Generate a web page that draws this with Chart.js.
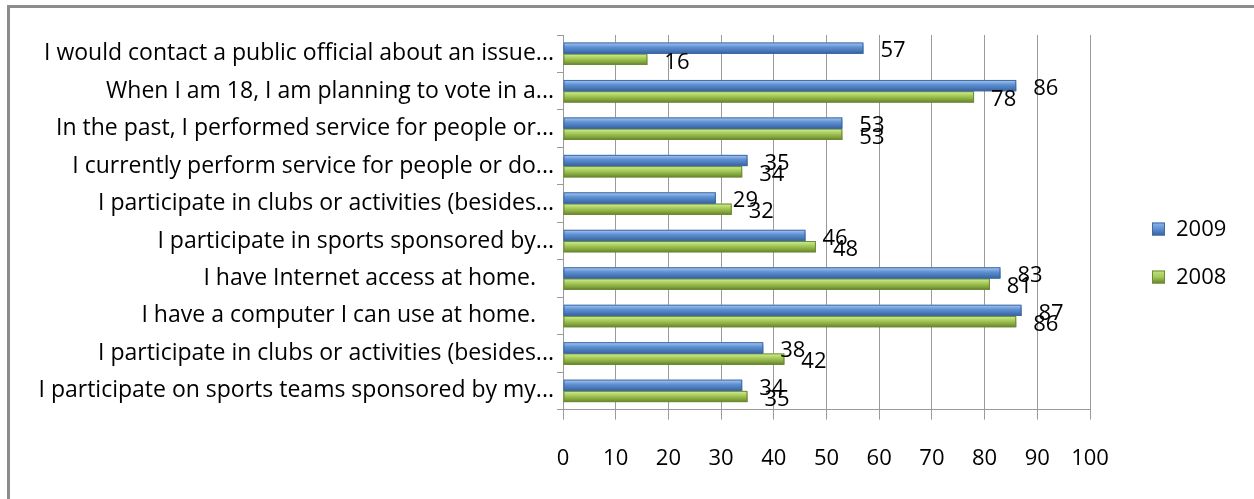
<!DOCTYPE html>
<html>
<head>
<meta charset="utf-8">
<script src="https://cdn.jsdelivr.net/npm/chart.js@4/dist/chart.umd.min.js"></script>
<style>
  html, body { margin: 0; padding: 0; background: #fff; overflow: hidden; }
  #frame {
    position: absolute; left: 7px; top: 5px;
    width: 1300px; height: 560px;
    border: 3px solid #8c8c8c; box-sizing: border-box;
  }
  #surveyChart { position: absolute; left: 10px; top: 8px; }
</style>
</head>
<body>
<div id="frame"></div>
<canvas id="surveyChart" width="1244" height="490"></canvas>
<script>
const categories = [
  'I would contact a public official about an issue...',
  'When I am 18, I am planning to vote in a...',
  'In the past, I performed service for people or...',
  'I currently perform service for people or do...',
  'I participate in clubs or activities (besides...',
  'I participate in sports sponsored by...',
  'I have Internet access at home.   ',
  'I have a computer I can use at home.   ',
  'I participate in clubs or activities (besides...',
  'I participate on sports teams sponsored by my...'
];
const values2009 = [57, 86, 53, 35, 29, 46, 83, 87, 38, 34];
const values2008 = [16, 78, 53, 34, 32, 48, 81, 86, 42, 35];
const seriesNames = ['2009', '2008'];
const xMin = 0, xMax = 100, xStep = 10;

// bevel look for each series: gradient stops top -> bottom, plus outline
const bevel = [
  { stops: ['#bcd5f4', '#8fb6e8', '#5f90d2', '#4a79b9', '#36609a'], edge: '#3e6aa6', flat: '#4f81bd' },
  { stops: ['#e3f5b0', '#c4e37f', '#a5c95a', '#86a83f', '#62802c'], edge: '#6e8c34', flat: '#9bbb59' }
];
const stopPos = [0, 0.15, 0.42, 0.72, 1];

function bevelFill(ctx, top, h, style) {
  const g = ctx.createLinearGradient(0, top, 0, top + h);
  style.stops.forEach((c, i) => g.addColorStop(stopPos[i], c));
  return g;
}

const FONT = { family: "'Open Sans'", size: 22 };
const CAT_FONT = { family: "'Open Sans'", size: 23 };

// soft shadow under the bars, then the gradient face on top of each bar
const barShine = {
  id: 'barShine',
  beforeDatasetDraw(chart) {
    const ctx = chart.ctx;
    ctx.save();
    ctx.shadowColor = 'rgba(0,0,0,0.35)';
    ctx.shadowBlur = 4;
    ctx.shadowOffsetX = 2;
    ctx.shadowOffsetY = 3;
  },
  afterDatasetDraw(chart, args) {
    const ctx = chart.ctx;
    ctx.restore();
    const style = bevel[args.index];
    args.meta.data.forEach(el => {
      const p = el.getProps(['x', 'y', 'base', 'height'], true);
      const left = Math.min(p.base, p.x), right = Math.max(p.base, p.x);
      const top = p.y - p.height / 2;
      ctx.save();
      ctx.fillStyle = bevelFill(ctx, top, p.height, style);
      ctx.fillRect(left, top, right - left, p.height);
      ctx.strokeStyle = style.edge;
      ctx.lineWidth = 1;
      ctx.strokeRect(left + 0.5, top + 0.5, right - left - 1, p.height - 1);
      ctx.restore();
    });
  }
};

// value labels just past the end of each bar
const valueLabels = {
  id: 'valueLabels',
  afterDatasetsDraw(chart) {
    const ctx = chart.ctx;
    ctx.save();
    ctx.font = FONT.size + 'px ' + FONT.family;
    ctx.fillStyle = '#000';
    ctx.textAlign = 'left';
    ctx.textBaseline = 'middle';
    chart.data.datasets.forEach((ds, di) => {
      chart.getDatasetMeta(di).data.forEach((el, i) => {
        ctx.fillText(String(ds.data[i]), el.x + 17, el.y + 3);
      });
    });
    ctx.restore();
  }
};

// legend to the right of the plot
const sideLegend = {
  id: 'sideLegend',
  afterDraw(chart) {
    const ctx = chart.ctx;
    const x = chart.chartArea.right + 62;
    const midY = chart.height / 2;
    const gap = 48;
    ctx.save();
    ctx.font = FONT.size + 'px ' + FONT.family;
    ctx.textBaseline = 'middle';
    chart.data.datasets.forEach((ds, di) => {
      const cy = midY + (di - 0.5) * gap;
      const s = 13, top = cy - s / 2;
      const g = ctx.createLinearGradient(x, top, x, top + s);
      g.addColorStop(0, bevel[di].stops[1]);
      g.addColorStop(0.5, bevel[di].stops[2]);
      g.addColorStop(1, bevel[di].stops[4]);
      ctx.fillStyle = g;
      ctx.fillRect(x, top, s, s);
      ctx.strokeStyle = bevel[di].edge;
      ctx.strokeRect(x + 0.5, top + 0.5, s - 1, s - 1);
      ctx.fillStyle = '#000';
      ctx.fillText(ds.label, x + s + 11, cy + 1);
    });
    ctx.restore();
  }
};

const gridColor = '#9a9a9a';

new Chart(document.getElementById('surveyChart'), {
  type: 'bar',
  data: {
    labels: categories,
    datasets: [
      { label: seriesNames[0], data: values2009, backgroundColor: bevel[0].flat, borderColor: bevel[0].edge, borderWidth: 1 },
      { label: seriesNames[1], data: values2008, backgroundColor: bevel[1].flat, borderColor: bevel[1].edge, borderWidth: 1 }
    ]
  },
  options: {
    indexAxis: 'y',
    responsive: false,
    animation: false,
    devicePixelRatio: 1,
    categoryPercentage: 0.6,
    barPercentage: 1,
    layout: { padding: { top: 27, right: 164, bottom: 0, left: 0 } },
    plugins: {
      legend: { display: false },
      tooltip: { enabled: false }
    },
    scales: {
      x: {
        min: xMin, max: xMax,
        ticks: { stepSize: xStep, color: '#000', font: FONT, padding: 26 },
        grid: { color: gridColor, tickLength: 10, drawTicks: true },
        border: { color: gridColor }
      },
      y: {
        ticks: { color: '#000', font: CAT_FONT, padding: 3, autoSkip: false },
        grid: { color: gridColor, drawOnChartArea: false, tickLength: 6, offset: true },
        border: { color: gridColor },
        afterFit(scale) { scale.width = 553; }
      }
    }
  },
  plugins: [barShine, valueLabels, sideLegend]
});
</script>
</body>
</html>
